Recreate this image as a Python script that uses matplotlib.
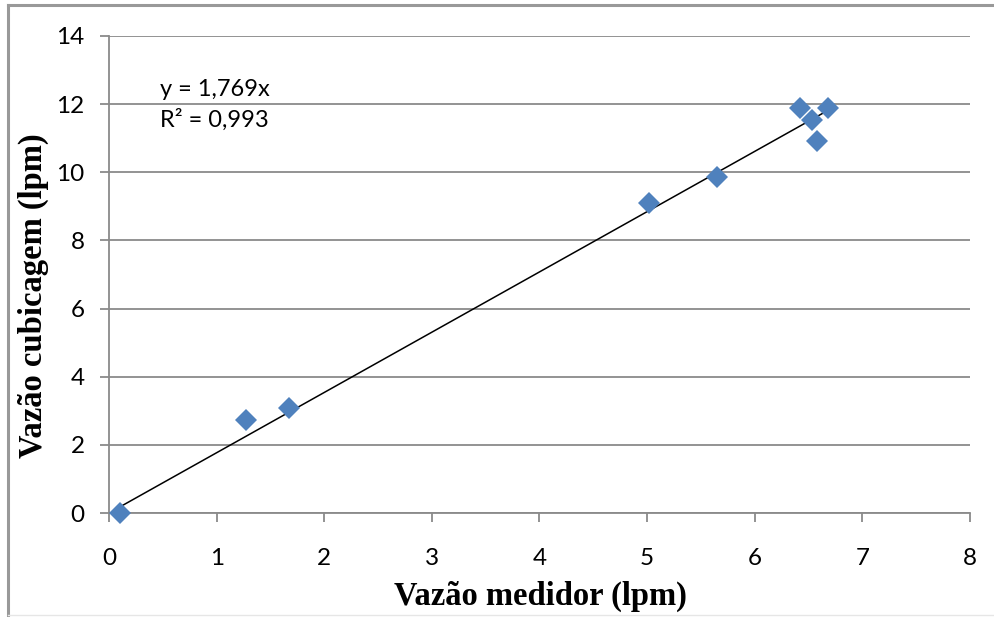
import matplotlib
matplotlib.use("Agg")
import matplotlib.pyplot as plt
from matplotlib.lines import Line2D

# Measured flow (meter) vs. flow by volume (cubicagem), in litres per minute
vazao_medidor = [0.10, 1.27, 1.67, 5.02, 5.65, 6.42, 6.53, 6.58, 6.68]
vazao_cubicagem = [0.00, 2.73, 3.07, 9.11, 9.87, 11.90, 11.53, 10.92, 11.90]

# Linear fit through the origin
slope = 1.769
r2 = 0.993

x_ticks = [0, 1, 2, 3, 4, 5, 6, 7, 8]
y_ticks = [0, 2, 4, 6, 8, 10, 12, 14]

tick_font = "Lato"
title_font = "Liberation Serif"
grid_color = "#8a8a8a"

fig = plt.figure(figsize=(9.95, 6.17), dpi=100)
ax = fig.add_axes([109 / 995, 1 - 513 / 617, (970 - 109) / 995, (513 - 36) / 617])

ax.set_xlim(0, 8)
ax.set_ylim(0, 14)
ax.set_xticks(x_ticks)
ax.set_yticks(y_ticks)
ax.set_xticklabels([str(v) for v in x_ticks], fontfamily=tick_font, fontsize=17.5)
ax.set_yticklabels([str(v) for v in y_ticks], fontfamily=tick_font, fontsize=17.5)

ax.yaxis.grid(True, color=grid_color, linewidth=1.3)
ax.set_axisbelow(True)
for side in ("top", "right"):
    ax.spines[side].set_visible(False)
for side in ("left", "bottom"):
    ax.spines[side].set_color(grid_color)
    ax.spines[side].set_linewidth(1.3)
ax.tick_params(axis="both", direction="out", length=6.5, width=1.3,
               color=grid_color, labelcolor="black")
ax.tick_params(axis="x", pad=19)
ax.tick_params(axis="y", pad=11)

# Trend line across the range of the data
x0, x1 = min(vazao_medidor), max(vazao_medidor)
ax.plot([x0, x1], [slope * x0, slope * x1], color="black", linewidth=1.1, zorder=2)

ax.plot(vazao_medidor, vazao_cubicagem, linestyle="none", marker="D",
        markersize=11.5, color="#4f81bd", markeredgewidth=0, zorder=3,
        clip_on=False)

ax.text(0.47, 12.44, f"y = {slope:.3f}x".replace(".", ","), fontfamily=tick_font,
        fontsize=17, ha="left", va="center")
ax.text(0.47, 11.53, f"R² = {r2:.3f}".replace(".", ","), fontfamily=tick_font,
        fontsize=17, ha="left", va="center")

fig.text(540 / 995, 1 - 596 / 617, "Vazão medidor (lpm)", fontfamily=title_font,
         fontweight="bold", fontsize=23.5, ha="center", va="center")
fig.text(33 / 995, 1 - 296 / 617, "Vazão cubicagem (lpm)", fontfamily=title_font,
         fontweight="bold", fontsize=23.5, ha="center", va="center", rotation=90)

# Outer frame of the chart area
frame_kw = dict(transform=fig.transFigure, color="#999999", linewidth=2.2)
fig.add_artist(Line2D([8 / 995, 1.0], [1 - 5 / 617, 1 - 5 / 617], **frame_kw))
fig.add_artist(Line2D([8 / 995, 8 / 995], [1 - 5 / 617, 0.0], **frame_kw))
fig.add_artist(Line2D([8 / 995, 1.0], [1 - 615 / 617, 1 - 615 / 617],
                      transform=fig.transFigure, color="#e6e6e6", linewidth=1.0))

fig.savefig("out.png", dpi=100)
